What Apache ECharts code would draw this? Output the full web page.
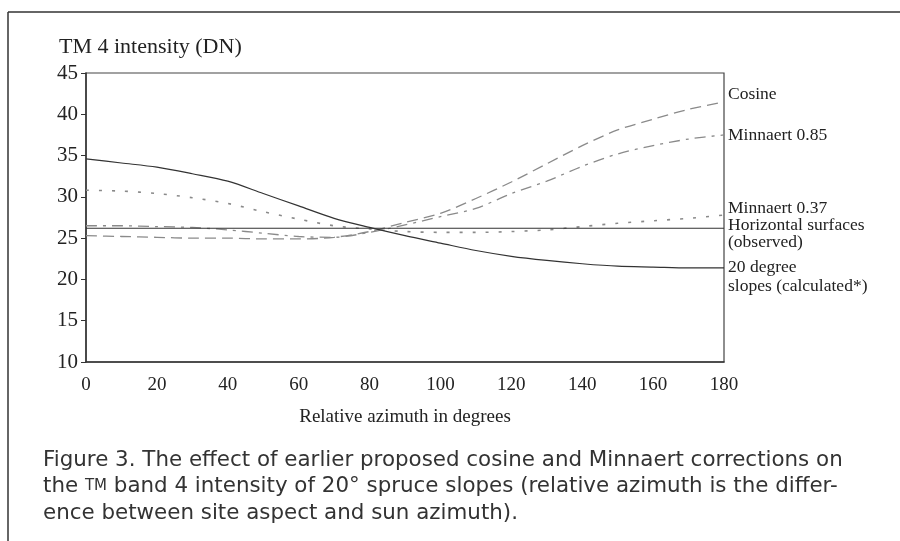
<!DOCTYPE html>
<html><head><meta charset="utf-8">
<script src="https://cdn.jsdelivr.net/npm/echarts@6/dist/echarts.min.js"></script>
<style>html,body{margin:0;padding:0;background:#fff}#c{width:900px;height:541px}</style>
</head><body><div id="c"></div>
<script>
const azimuth = [0,10,20,30,40,50,60,70,80,90,100,110,120,130,140,150,160,170,180];
const cosine = [25.3,25.2,25.1,25.0,25.0,24.9,24.9,25.1,25.8,26.9,28.0,29.8,31.8,34.0,36.2,38.1,39.4,40.6,41.5];
const minnaert085 = [26.5,26.5,26.4,26.3,26.0,25.6,25.2,25.1,25.7,26.6,27.6,28.6,30.4,31.9,33.7,35.2,36.2,37.0,37.5];
const minnaert037 = [30.8,30.7,30.4,29.9,29.2,28.2,27.3,26.5,26.1,25.8,25.7,25.7,25.8,26.0,26.4,26.8,27.1,27.4,27.8];
const horizontal = [26.2,26.2,26.2,26.2,26.2,26.2,26.2,26.2,26.2,26.2,26.2,26.2,26.2,26.2,26.2,26.2,26.2,26.2,26.2];
const slopes20 = [34.6,34.1,33.6,32.8,31.9,30.4,28.9,27.4,26.3,25.3,24.4,23.5,22.8,22.3,21.9,21.6,21.5,21.4,21.4];
const yTicks = [10,15,20,25,30,35,40,45];
const xTicks = [0,20,40,60,80,100,120,140,160,180];

const pair = arr => azimuth.map((a,i)=>[a,arr[i]]);
const serif = '"Liberation Serif","Times New Roman",serif';
const sans = '"DejaVu Sans",sans-serif';
const lineDefs = [
  {name:'Cosine', data:cosine, color:'#8a8a8a', type:[11,6], w:1.3},
  {name:'Minnaert 0.85', data:minnaert085, color:'#8a8a8a', type:[11,6,3,6], w:1.3},
  {name:'Minnaert 0.37', data:minnaert037, color:'#8a8a8a', type:[3,10], w:1.6},
  {name:'Horizontal surfaces (observed)', data:horizontal, color:'#333', type:'solid', w:1.2},
  {name:'20 degree slopes (calculated*)', data:slopes20, color:'#333', type:'solid', w:1.2}
];

const chart = echarts.init(document.getElementById('c'), null, {renderer:'canvas'});
const txt = (x,y,t,size) => ({type:'text', left:x, top:y, style:{text:t, font:size+'px '+serif, fill:'#222'}});
chart.setOption({
  animation:false,
  backgroundColor:'#fff',
  grid:{left:86, right:176, top:73, bottom:179, show:true, borderColor:'#444', borderWidth:1.2},
  xAxis:{type:'value', min:0, max:180, interval:20,
    axisLine:{show:true, lineStyle:{color:'#333', width:1.5}},
    axisTick:{show:false}, splitLine:{show:false},
    axisLabel:{color:'#222', fontFamily:serif, fontSize:19, margin:14},
    name:'Relative azimuth in degrees', nameLocation:'middle', nameGap:46,
    nameTextStyle:{color:'#222', fontFamily:serif, fontSize:19}
  },
  yAxis:{type:'value', min:10, max:45, interval:5,
    axisLine:{show:true, lineStyle:{color:'#333', width:1.5}},
    axisTick:{show:true, length:5, lineStyle:{color:'#333'}}, splitLine:{show:false},
    axisLabel:{color:'#222', fontFamily:serif, fontSize:21, margin:8}
  },
  series: lineDefs.map(d=>({type:'line', name:d.name, data:pair(d.data), smooth:0.3, symbol:'none',
    lineStyle:{color:d.color, width:d.w, type:d.type}})),
  graphic:[
    {type:'line', shape:{x1:8,y1:12,x2:900,y2:12}, style:{stroke:'#333', lineWidth:1.5}},
    {type:'line', shape:{x1:8,y1:12,x2:8,y2:541}, style:{stroke:'#333', lineWidth:1.5}},
    txt(59,36,'TM 4 intensity (DN)',22),
    txt(728,85,'Cosine',17.5),
    txt(728,126,'Minnaert 0.85',17.5),
    txt(728,199,'Minnaert 0.37',17.5),
    txt(728,216,'Horizontal surfaces',17.5),
    txt(728,233,'(observed)',17.5),
    txt(728,258,'20 degree',17.5),
    txt(728,277,'slopes (calculated*)',17.5),
    {type:'text', left:43, top:450, style:{text:'Figure 3. The effect of earlier proposed cosine and Minnaert corrections on', font:'21.4px '+sans, fill:'#333'}},
    {type:'text', left:43, top:476, style:{rich:{n:{font:'21.4px '+sans, fill:'#333'}, s:{font:'15px '+sans, fill:'#333'}}, text:'{n|the }{s|TM}{n| band 4 intensity of 20° spruce slopes (relative azimuth is the differ-}'}},
    {type:'text', left:43, top:503, style:{text:'ence between site aspect and sun azimuth).', font:'21.4px '+sans, fill:'#333'}}
  ]
});
</script></body></html>
